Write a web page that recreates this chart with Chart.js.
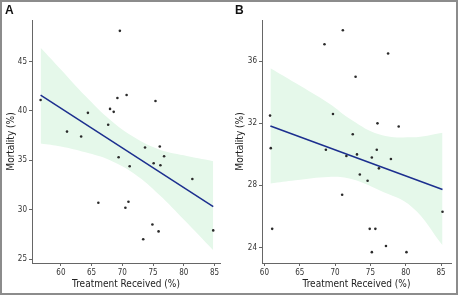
<!DOCTYPE html>
<html>
<head>
<meta charset="utf-8">
<script src="https://cdn.jsdelivr.net/npm/chart.js@4/dist/chart.umd.min.js"></script>
<style>
  html,body{margin:0;padding:0;background:#fff;}
  body{width:458px;height:297px;position:relative;overflow:hidden;}
  #frame{position:absolute;left:0;top:0;width:458px;height:295px;border:2px solid #8c8c8c;box-sizing:border-box;}
  .pane{position:absolute;top:0;width:229px;height:297px;}
  .lab{position:absolute;top:3px;font:bold 12px "Liberation Sans",Arial,sans-serif;color:#111;}
</style>
</head>
<body>
<div id="frame"></div>
<div class="pane" style="left:0"><canvas id="cA" width="229" height="297"></canvas></div>
<div class="pane" style="left:229px"><canvas id="cB" width="229" height="297"></canvas></div>
<div class="lab" style="left:5px">A</div>
<div class="lab" style="left:235px">B</div>
<script>
// ---------- Panel A data ----------
const xA = [56.7, 61.0, 63.3, 64.4, 67.7, 68.0, 68.6, 69.2, 69.6, 70.7, 75.4, 73.7, 76.1,
            69.4, 71.2, 75.1, 76.2, 76.8, 81.4, 66.1, 70.5, 71.0, 74.9, 75.9, 73.4, 84.8];
const yA = [41.1, 37.9, 37.4, 39.8, 38.6, 40.2, 39.9, 41.3, 48.1, 41.6, 41.0, 36.3, 36.4,
            35.3, 34.4, 34.7, 34.5, 35.4, 33.1, 30.7, 30.2, 30.8, 28.5, 27.8, 27.0, 27.9];
const fitXA = [56.7, 84.8];
const fitYA = [41.6, 30.3];
const bandXA = [56.7, 60, 64, 68, 72, 76, 80, 84.8];
const bandUpA = [46.4, 44.2, 41.5, 39.1, 37.3, 36.1, 35.5, 34.9];
const bandLoA = [36.7, 36.4, 35.8, 35.0, 33.6, 31.5, 29.0, 25.9];
const xTicksA = [60, 65, 70, 75, 80, 85];
const yTicksA = [25, 30, 35, 40, 45];

// ---------- Panel B data ----------
const xB = [60.8, 60.9, 68.5, 71.1, 69.7, 72.9, 72.5, 76.0, 77.5, 79.0, 68.7, 75.9,
            71.6, 73.1, 75.2, 77.9, 76.2, 73.5, 74.6, 71.0, 61.1, 74.9, 75.7, 85.2, 77.2, 75.2, 80.1];
const yB = [32.5, 30.4, 37.1, 38.0, 32.6, 35.0, 31.3, 32.0, 36.5, 31.8, 30.3, 30.3,
            29.9, 30.0, 29.8, 29.7, 29.1, 28.7, 28.3, 27.4, 25.2, 25.2, 25.2, 26.3, 24.1, 23.7, 23.7];
const fitXB = [60.85, 85.2];
const fitYB = [31.83, 27.74];
const bandXB = [60.85, 64.4, 69.1, 72.4, 76.2, 80.9, 85.2];
const bandUpB = [35.55, 34.6, 33.3, 32.2, 31.3, 31.1, 31.4];
const bandLoB = [28.13, 28.34, 28.55, 28.4, 27.7, 26.6, 24.15];
const xTicksB = [60, 65, 70, 75, 80, 85];
const yTicksB = [24, 28, 32, 36];

const pts = (xs, ys) => xs.map((x, i) => ({x, y: ys[i]}));
const FONT = '"Liberation Sans Narrow","DejaVu Sans Condensed","Liberation Sans",Arial,sans-serif';

function makeChart(id, o) {
  const ds = [
    {data: pts(o.x, o.y), showLine: false, pointRadius: 1.3, pointBackgroundColor: '#2a2a2a', pointBorderWidth: 0},
    {data: pts(o.fitX, o.fitY), showLine: true, borderColor: '#1c2f8f', borderWidth: 1.5, pointRadius: 0, fill: false},
    {data: pts(o.bx, o.bu), showLine: true, borderWidth: 0, borderColor: 'rgba(0,0,0,0)', pointRadius: 0, fill: false, tension: 0.4},
    {data: pts(o.bx, o.bl), showLine: true, borderWidth: 0, borderColor: 'rgba(0,0,0,0)', pointRadius: 0, fill: '-1', backgroundColor: '#e5f8ea', tension: 0.4}
  ];
  const axisCommon = {
    grid: {display: true, drawOnChartArea: false, drawTicks: true, tickLength: 3, color: '#666', lineWidth: 1},
    border: {display: true, color: '#666', width: 1}
  };
  return new Chart(document.getElementById(id), {
    type: 'scatter',
    data: {datasets: ds},
    options: {
      responsive: false, animation: false, devicePixelRatio: 1,
      layout: {padding: {left: 0, right: o.padRight, top: 20, bottom: 7}},
      plugins: {legend: {display: false}, tooltip: {enabled: false}},
      scales: {
        x: Object.assign({}, axisCommon, {
          type: 'linear', min: o.xmin, max: o.xmax,
          afterBuildTicks: s => { s.ticks = o.xt.map(v => ({value: v})); },
          afterFit: s => { s.height = 27; },
          ticks: {padding: 2, color: '#333', font: {family: FONT, size: 8}},
          title: {display: true, text: 'Treatment Received (%)', color: '#222', font: {family: FONT, size: 10}, padding: {top: 0, bottom: 0}}
        }),
        y: Object.assign({}, axisCommon, {
          type: 'linear', min: o.ymin, max: o.ymax,
          afterBuildTicks: s => { s.ticks = o.yt.map(v => ({value: v})); },
          afterFit: s => { s.width = o.yw; },
          ticks: {padding: 2, color: '#333', font: {family: FONT, size: 8}},
          title: {display: true, text: 'Mortality (%)', color: '#222', font: {family: FONT, size: 10}, padding: {top: 5, bottom: 0}}
        })
      }
    }
  });
}

makeChart('cA', {x: xA, y: yA, fitX: fitXA, fitY: fitYA, bx: bandXA, bu: bandUpA, bl: bandLoA,
  xt: xTicksA, yt: yTicksA, xmin: 55.3, xmax: 85.9, ymin: 24.6, ymax: 49.2, yw: 32, padRight: 9});
makeChart('cB', {x: xB, y: yB, fitX: fitXB, fitY: fitYB, bx: bandXB, bu: bandUpB, bl: bandLoB,
  xt: xTicksB, yt: yTicksB, xmin: 59.66, xmax: 86.4, ymin: 23.0, ymax: 38.66, yw: 33, padRight: 7});
</script>
</body>
</html>
